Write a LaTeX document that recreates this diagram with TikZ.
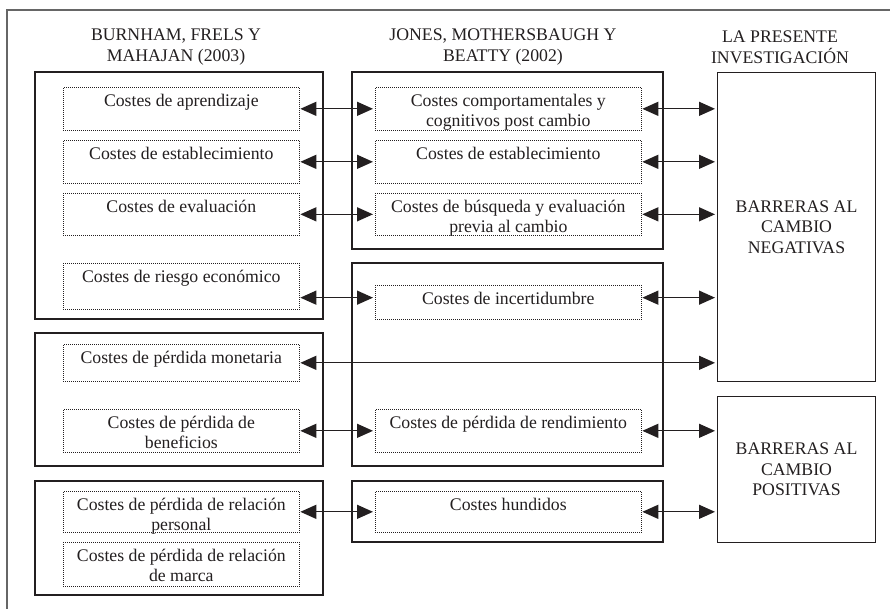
\documentclass[tikz,border=0pt]{standalone}
\usepackage{fontspec}
\setmainfont{Liberation Serif}
\usetikzlibrary{arrows.meta}

\definecolor{tinta}{RGB}{35,31,32}
\newlength{\pxu}
\setlength{\pxu}{0.75pt}
\newcommand{\ctext}[3]{\parbox[t][#2\pxu][t]{#1\pxu}{\centering\vspace*{3.4pt}\strut #3}}

\tikzset{
  coste/.style={draw=tinta, densely dotted, line width=0.5pt, inner sep=0pt, anchor=north west},
  barrera/.style={draw=tinta, line width=0.8pt, inner sep=0pt, anchor=north west, align=center},
  grupo/.style={draw=tinta, line width=0.8pt},
  flecha/.style={tinta, line width=1pt, {Triangle[length=12pt,width=10.5pt]}-{Triangle[length=12pt,width=10.5pt]}, shorten <=0.5pt, shorten >=1.5pt}
}

\begin{document}
\begin{tikzpicture}[x=0.75pt, y=-0.75pt, font=\fontsize{13.3}{15.5}\selectfont, text=tinta]
          \useasboundingbox (0,0) rectangle (890,609);

          \draw[gray!80!black, line width=1.2pt] (7,609)--(7,10)--(890,10);

          \node[align=center] (autA) at (176,47) {BURNHAM, FRELS Y\\MAHAJAN (2003)};
          \node[align=center] (autB) at (503,47) {JONES, MOTHERSBAUGH Y\\BEATTY (2002)};
          \node[align=center] (autC) at (780,47) {LA PRESENTE\\INVESTIGACIÓN};

          \draw[grupo] (35,72) rectangle (323,319);
          \draw[grupo] (35,333) rectangle (323,466);
          \draw[grupo] (35,481) rectangle (323,595);

          \draw[grupo] (352,72) rectangle (663,249);
          \draw[grupo] (352,263) rectangle (663,466);
          \draw[grupo] (352,481) rectangle (663,542);

          \node[coste] (apr) at (63,87) {\ctext{236}{43}{Costes de aprendizaje}};
          \node[coste] (estA) at (63,140) {\ctext{236}{43}{Costes de establecimiento}};
          \node[coste] (eva) at (63,193) {\ctext{236}{42}{Costes de evaluación}};
          \node[coste] (rie) at (63,263) {\ctext{236}{46}{Costes de riesgo económico}};
          \node[coste] (mon) at (63,344) {\ctext{236}{37}{Costes de pérdida monetaria}};
          \node[coste] (ben) at (63,409) {\ctext{236}{43}{Costes de pérdida de\\beneficios}};
          \node[coste] (rper) at (63,491) {\ctext{236}{41}{Costes de pérdida de relación\\personal}};
          \node[coste] (rmar) at (63,542) {\ctext{236}{44}{Costes de pérdida de relación\\de marca}};

          \node[coste] (comp) at (375,87) {\ctext{266}{43}{Costes comportamentales y\\cognitivos post cambio}};
          \node[coste] (estB) at (375,140) {\ctext{266}{43}{Costes de establecimiento}};
          \node[coste] (bus) at (375,193) {\ctext{266}{42}{Costes de búsqueda y evaluación\\previa al cambio}};
          \node[coste] (inc) at (375,285) {\ctext{266}{34}{Costes de incertidumbre}};
          \node[coste] (ren) at (375,409) {\ctext{266}{43}{Costes de pérdida de rendimiento}};
          \node[coste] (hun) at (375,491) {\ctext{266}{41}{Costes hundidos}};

          \node[barrera, minimum width=158\pxu, minimum height=309\pxu] (neg) at (717,72) {BARRERAS AL\\CAMBIO\\NEGATIVAS};
          \node[barrera, minimum width=158\pxu, minimum height=146\pxu] (pos) at (717,396) {BARRERAS AL\\CAMBIO\\POSITIVAS};

          \foreach \a/\b in {apr/comp, estA/estB, eva/bus, ben/ren, rper/hun}{
            \draw[flecha] (\a.east) -- (\b.west);
          }

          \foreach \b/\r in {comp/neg, estB/neg, bus/neg, ren/pos, hun/pos}{
            \draw[flecha] (\b.east) -- (\b.east -| \r.west);
          }

          \coordinate (incW) at ([yshift=3.5pt]inc.west);
          \coordinate (incE) at ([yshift=3.5pt]inc.east);
          \draw[flecha] (incW -| rie.east) -- (incW);
          \draw[flecha] (incE) -- (incE -| neg.west);

          \draw[flecha] (mon.east) -- (mon.east -| neg.west);
        \end{tikzpicture}
\end{document}
